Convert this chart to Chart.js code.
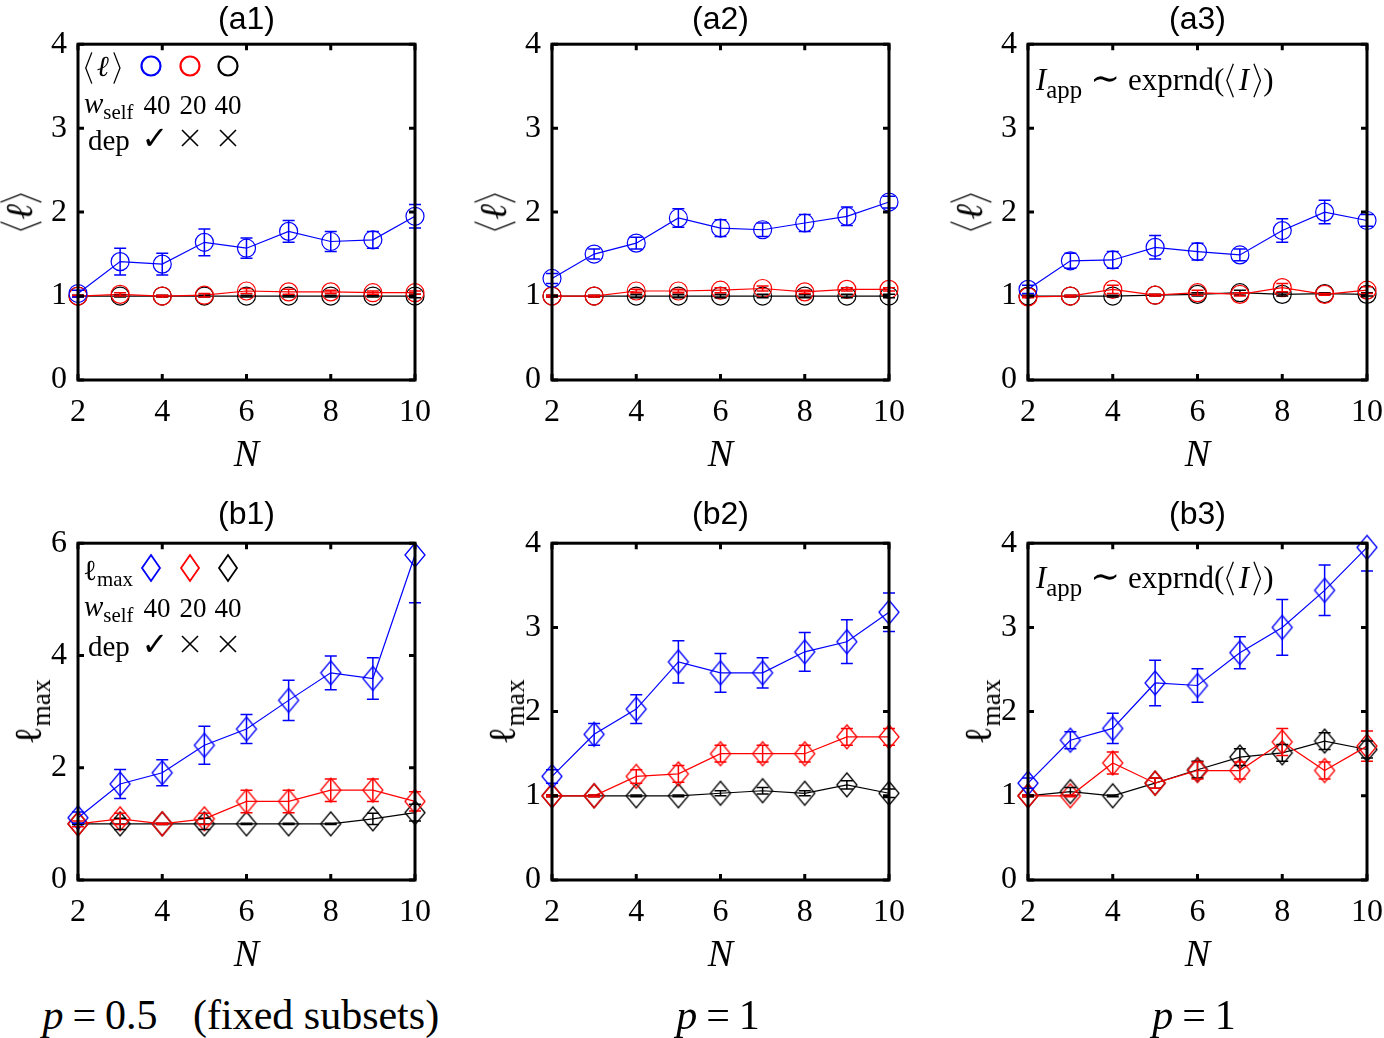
<!DOCTYPE html>
<html lang="en">
<head>
<meta charset="UTF-8">
<title>Cluster size vs N</title>
<script src="https://cdn.jsdelivr.net/npm/chart.js"></script>
<style>
  body { margin: 0; width: 1384px; height: 1038px; background: #fff; position: relative; overflow: hidden;
         font-family: 'Liberation Serif', 'DejaVu Serif', serif; color: #000; }
  canvas { position: absolute; }
  .t { position: absolute; white-space: nowrap; line-height: 1; transform: translate(-50%, -50%); }
  .ttl { font-family: 'Liberation Sans', Arial, sans-serif; font-size: 32px; }
  .nlab { font-style: italic; font-size: 38px; }
  .ylab { font-size: 38px; transform: translate(-50%, -50%) rotate(-90deg); }
  .leg { font-size: 29px; transform: translate(0, -50%); }
  .num { font-size: 27px; }
  .note { font-size: 31px; transform: translate(0, -50%); }
  .note sub { font-size: 0.8em; }
  .bot { font-size: 42px; }
  .left { transform: translate(0, -50%); }
  .eq { margin: 0 9px; }
  .tl { margin: 0 8px; font-family: 'DejaVu Serif', serif; font-size: 1.15em; }
  .gap { margin: 0 3px; }
  .mk { position: absolute; transform: translate(-50%, -50%); }
  .br { height: 1.15em; width: 0.3em; vertical-align: -0.28em; margin: 0 1px; }
  sub { font-size: 0.72em; vertical-align: -0.32em; line-height: 0; }
</style>
</head>
<body>
<script>
// x values shared by every panel
const nValues = [2, 3, 4, 5, 6, 7, 8, 9, 10];

// (a1) <l>, p = 0.5 fixed subsets
const a1Blue     = [1.03, 1.41, 1.38, 1.64, 1.57, 1.77, 1.65, 1.67, 1.95];
const a1BlueErr  = [0.04, 0.16, 0.13, 0.16, 0.12, 0.13, 0.12, 0.10, 0.14];
const a1Red      = [1.00, 1.02, 1.00, 1.01, 1.06, 1.05, 1.05, 1.04, 1.04];
const a1RedErr   = [0.01, 0.02, 0.01, 0.02, 0.03, 0.03, 0.02, 0.02, 0.02];
const a1Black    = [1.00, 1.00, 1.00, 1.00, 1.00, 1.00, 1.00, 1.00, 1.00];
const a1BlackErr = [0.01, 0.01, 0.01, 0.01, 0.01, 0.01, 0.01, 0.01, 0.02];

// (a2) <l>, p = 1
const a2Blue     = [1.21, 1.50, 1.63, 1.93, 1.81, 1.79, 1.87, 1.95, 2.12];
const a2BlueErr  = [0.06, 0.06, 0.07, 0.11, 0.10, 0.08, 0.10, 0.11, 0.07];
const a2Red      = [1.00, 1.00, 1.06, 1.06, 1.07, 1.09, 1.05, 1.08, 1.08];
const a2RedErr   = [0.01, 0.01, 0.02, 0.02, 0.03, 0.03, 0.02, 0.02, 0.02];
const a2Black    = [1.00, 1.00, 1.00, 1.00, 1.00, 1.00, 1.00, 1.00, 1.00];
const a2BlackErr = [0.01, 0.01, 0.02, 0.02, 0.02, 0.02, 0.02, 0.02, 0.02];

// (a3) <l>, p = 1, I_app ~ exprnd(<I>)
const a3Blue     = [1.08, 1.42, 1.43, 1.58, 1.53, 1.49, 1.78, 2.00, 1.90];
const a3BlueErr  = [0.05, 0.09, 0.10, 0.14, 0.10, 0.07, 0.14, 0.14, 0.07];
const a3Red      = [0.99, 1.00, 1.08, 1.01, 1.04, 1.02, 1.10, 1.02, 1.07];
const a3RedErr   = [0.01, 0.01, 0.05, 0.01, 0.03, 0.02, 0.05, 0.01, 0.04];
const a3Black    = [1.00, 1.00, 1.00, 1.01, 1.02, 1.04, 1.02, 1.03, 1.02];
const a3BlackErr = [0.01, 0.01, 0.01, 0.01, 0.02, 0.03, 0.02, 0.01, 0.02];

// (b1) l_max, p = 0.5 fixed subsets
const b1Blue     = [1.11, 1.71, 1.91, 2.40, 2.69, 3.20, 3.69, 3.59, 5.79];
const b1BlueErr  = [0.10, 0.26, 0.23, 0.34, 0.26, 0.36, 0.30, 0.37, 0.85];
const b1Red      = [1.00, 1.09, 1.00, 1.09, 1.40, 1.40, 1.60, 1.60, 1.40];
const b1RedErr   = [0.05, 0.10, 0.01, 0.10, 0.20, 0.20, 0.20, 0.20, 0.17];
const b1Black    = [1.00, 1.00, 1.00, 1.00, 1.00, 1.00, 1.00, 1.09, 1.20];
const b1BlackErr = [0.01, 0.10, 0.01, 0.10, 0.01, 0.01, 0.01, 0.10, 0.15];

// (b2) l_max, p = 1
const b2Blue     = [1.23, 1.73, 2.03, 2.59, 2.46, 2.46, 2.71, 2.83, 3.18];
const b2BlueErr  = [0.08, 0.13, 0.17, 0.25, 0.23, 0.18, 0.23, 0.26, 0.23];
const b2Red      = [1.00, 1.00, 1.23, 1.26, 1.50, 1.50, 1.50, 1.70, 1.70];
const b2RedErr   = [0.01, 0.01, 0.08, 0.10, 0.10, 0.10, 0.10, 0.10, 0.10];
const b2Black    = [1.00, 1.00, 1.00, 1.00, 1.03, 1.06, 1.03, 1.13, 1.03];
const b2BlackErr = [0.01, 0.01, 0.01, 0.01, 0.03, 0.04, 0.03, 0.05, 0.05];

// (b3) l_max, p = 1, I_app ~ exprnd(<I>)
const b3Blue     = [1.15, 1.66, 1.80, 2.34, 2.31, 2.70, 3.00, 3.44, 3.95];
const b3BlueErr  = [0.06, 0.10, 0.18, 0.27, 0.20, 0.19, 0.33, 0.30, 0.28];
const b3Red      = [1.00, 1.00, 1.39, 1.15, 1.30, 1.30, 1.64, 1.30, 1.59];
const b3RedErr   = [0.01, 0.01, 0.13, 0.06, 0.10, 0.10, 0.16, 0.10, 0.18];
const b3Black    = [1.00, 1.05, 1.00, 1.15, 1.31, 1.46, 1.51, 1.65, 1.55];
const b3BlackErr = [0.01, 0.05, 0.01, 0.06, 0.10, 0.10, 0.10, 0.10, 0.10];

const xTicks = [2, 4, 6, 8, 10];
const panelNames = ['(a1)', '(a2)', '(a3)', '(b1)', '(b2)', '(b3)'];
const legendW = ['40', '20', '40'];

// layout of the plot areas (pixels)
const colLeft = [78, 552, 1028], colRight = [415, 889, 1367];
const rowTop = [44, 543], rowBottom = [380, 880];
const Y_W = 50, X_H = 60, PAD = 25;

const BLUE = '#0000ff', RED = '#ff0000', BLACK = '#000000';
const SERIF = "'Liberation Serif', 'Times New Roman', serif";
Chart.defaults.font.family = SERIF;
const tickFont = { family: SERIF, size: 32 };
const charts = [];

// thin angle brackets as inline svg
function ang(open) {
  const pts = open ? '9,1 2,16 9,31' : '1,1 8,16 1,31';
  return `<svg class="br" viewBox="0 0 10 32" preserveAspectRatio="none"><polyline points="${pts}" fill="none" stroke="#000" stroke-width="1.3" vector-effect="non-scaling-stroke"/></svg>`;
}
const ell = `${ang(true)}<i>ℓ</i>${ang(false)}`;
const ellWide = `${ang(true)}<i class="gap">ℓ</i>${ang(false)}`;

function diamond(color) {
  const c = document.createElement('canvas');
  c.width = 24; c.height = 28;
  const g = c.getContext('2d');
  g.strokeStyle = color; g.lineWidth = 1.3;
  g.beginPath();
  g.moveTo(12, 2); g.lineTo(22, 14); g.lineTo(12, 26); g.lineTo(2, 14); g.closePath();
  g.stroke();
  return c;
}

const frame = {
  id: 'frame',
  afterDraw(chart) {
    const { ctx, chartArea: a, scales: { x, y } } = chart;
    ctx.save();
    ctx.strokeStyle = '#000';
    ctx.lineWidth = 3;
    ctx.strokeRect(a.left, a.top, a.width, a.height);
    ctx.beginPath();
    x.ticks.forEach(t => {
      const px = x.getPixelForValue(t.value);
      ctx.moveTo(px, a.bottom); ctx.lineTo(px, a.bottom - 6);
      ctx.moveTo(px, a.top); ctx.lineTo(px, a.top + 6);
    });
    y.ticks.forEach(t => {
      const py = y.getPixelForValue(t.value);
      ctx.moveTo(a.left, py); ctx.lineTo(a.left + 6, py);
      ctx.moveTo(a.right, py); ctx.lineTo(a.right - 6, py);
    });
    ctx.stroke();
    ctx.restore();
  }
};

const errorBars = {
  id: 'errorBars',
  afterDatasetsDraw(chart) {
    const { ctx, chartArea: a, scales: { x, y } } = chart;
    ctx.save();
    ctx.beginPath();
    ctx.rect(a.left - 30, a.top, a.width + 60, a.height);
    ctx.clip();
    chart.data.datasets.slice().reverse().forEach(ds => {
      ctx.strokeStyle = ds.borderColor;
      ctx.lineWidth = 1.5;
      ctx.beginPath();
      ds.data.forEach((p, i) => {
        const e = ds.errors[i];
        const px = x.getPixelForValue(p.x);
        const t = y.getPixelForValue(p.y + e), b = y.getPixelForValue(p.y - e);
        ctx.moveTo(px, t); ctx.lineTo(px, b);
        ctx.moveTo(px - 6, t); ctx.lineTo(px + 6, t);
        ctx.moveTo(px - 6, b); ctx.lineTo(px + 6, b);
      });
      ctx.stroke();
    });
    ctx.restore();
  }
};

function series(vals, errs, color, marker) {
  return {
    data: nValues.map((n, i) => ({ x: n, y: vals[i] })),
    errors: errs,
    borderColor: color,
    borderWidth: 1.2,
    pointStyle: marker === 'circle' ? 'circle' : diamond(color),
    pointRadius: 9,
    pointBorderWidth: 1.2,
    pointBorderColor: color,
    pointBackgroundColor: 'rgba(0,0,0,0)',
    tension: 0,
    clip: false
  };
}

function addText(html, x, y, cls) {
  const d = document.createElement('div');
  d.className = 't ' + cls;
  d.innerHTML = html;
  d.style.left = x + 'px';
  d.style.top = y + 'px';
  document.body.appendChild(d);
  return d;
}

function panel(idx, yMax, yStep, marker, blue, blueErr, red, redErr, black, blackErr) {
  const col = idx % 3, row = Math.floor(idx / 3);
  const L = colLeft[col], R = colRight[col], T = rowTop[row], B = rowBottom[row];
  const cv = document.createElement('canvas');
  document.body.appendChild(cv);
  const W0 = Y_W + (R - L) + PAD, H0 = PAD + (B - T) + X_H;
  cv.width = W0; cv.height = H0;
  cv.style.width = W0 + 'px'; cv.style.height = H0 + 'px';

  const chart = new Chart(cv, {
    type: 'line',
    data: {
      datasets: [
        series(blue, blueErr, BLUE, marker),
        series(red, redErr, RED, marker),
        series(black, blackErr, BLACK, marker)
      ]
    },
    options: {
      responsive: false,
      maintainAspectRatio: false,
      animation: false,
      layout: { padding: { top: PAD, right: PAD, left: 0, bottom: 0 } },
      plugins: { legend: { display: false }, tooltip: { enabled: false } },
      scales: {
        x: {
          type: 'linear', min: 2, max: 10,
          afterBuildTicks: s => { s.ticks = xTicks.map(v => ({ value: v })); },
          ticks: { font: tickFont, color: '#000', padding: 13, maxRotation: 0, autoSkip: false },
          grid: { display: false, drawTicks: false },
          border: { display: false },
          afterFit: s => { s.height = X_H; }
        },
        y: {
          min: 0, max: yMax,
          ticks: { stepSize: yStep, font: tickFont, color: '#000', padding: 11 },
          grid: { display: false, drawTicks: false },
          border: { display: false },
          afterFit: s => { s.width = Y_W; }
        }
      }
    },
    plugins: [errorBars, frame]
  });
  charts.push(chart);

  // grow the canvas until the plot area has the wanted size, then place it
  for (let k = 0; k < 4; k++) {
    const a = chart.chartArea;
    const dw = Math.round((R - L) - (a.right - a.left));
    const dh = Math.round((B - T) - (a.bottom - a.top));
    if (!dw && !dh) break;
    chart.resize(chart.width + dw, chart.height + dh);
  }
  cv.style.left = Math.round(L - chart.chartArea.left) + 'px';
  cv.style.top = Math.round(T - chart.chartArea.top) + 'px';

  const cx = (L + R) / 2, cy = (T + B) / 2;
  addText(panelNames[idx], cx, T - 26 - row * 4, 'ttl');
  addText('N', cx, B + 73, 'nlab');
  if (row === 0) addText(ell, L - 57, cy, 'ylab');
  else addText('ℓ<sub>max</sub>', L - 50, cy, 'ylab');
}

// make sure the serif face is ready before the canvases paint their ticks
const probe = addText('0123456789', -500, -500, '');
probe.style.fontFamily = SERIF; probe.style.fontSize = '32px';
void probe.offsetWidth;

panel(0, 4, 1, 'circle', a1Blue, a1BlueErr, a1Red, a1RedErr, a1Black, a1BlackErr);
panel(1, 4, 1, 'circle', a2Blue, a2BlueErr, a2Red, a2RedErr, a2Black, a2BlackErr);
panel(2, 4, 1, 'circle', a3Blue, a3BlueErr, a3Red, a3RedErr, a3Black, a3BlackErr);
panel(3, 6, 2, 'diamond', b1Blue, b1BlueErr, b1Red, b1RedErr, b1Black, b1BlackErr);
panel(4, 4, 1, 'diamond', b2Blue, b2BlueErr, b2Red, b2RedErr, b2Black, b2BlackErr);
panel(5, 4, 1, 'diamond', b3Blue, b3BlueErr, b3Red, b3RedErr, b3Black, b3BlackErr);
document.fonts.ready.then(() => charts.forEach(c => c.update()));

// bottom captions
addText('<i>p</i><span class="eq">=</span>0.5', 100, 1015, 'bot');
addText('(fixed subsets)', 193, 1015, 'bot left');
addText('<i>p</i><span class="eq">=</span>1', 718, 1015, 'bot');
addText('<i>p</i><span class="eq">=</span>1', 1194, 1015, 'bot');

// legends inside (a1) and (b1)
const markerX = [151, 190, 228];
function marker(shape, color, x, y) {
  const s = document.createElement('div');
  s.className = 'mk';
  s.style.left = x + 'px'; s.style.top = y + 'px';
  s.innerHTML = shape === 'circle'
    ? `<svg width="24" height="24"><circle cx="12" cy="12" r="9.5" fill="none" stroke="${color}" stroke-width="2.2"/></svg>`
    : `<svg width="24" height="30"><polygon points="12,2 21,15 12,28 3,15" fill="none" stroke="${color}" stroke-width="1.8"/></svg>`;
  document.body.appendChild(s);
}
function cross(x, y) {
  const s = document.createElement('div');
  s.className = 'mk';
  s.style.left = x + 'px'; s.style.top = y + 'px';
  s.innerHTML = '<svg width="20" height="20"><path d="M2,2 L18,18 M18,2 L2,18" stroke="#000" stroke-width="1.6" fill="none"/></svg>';
  document.body.appendChild(s);
}
function legend(rows, shape, head) {
  addText(head, 83, rows[0], 'leg');
  marker(shape, BLUE, markerX[0], rows[0]);
  marker(shape, RED, markerX[1], rows[0]);
  marker(shape, BLACK, markerX[2], rows[0]);
  addText('<i>w</i><sub>self</sub>', 84, rows[1] - 2, 'leg');
  legendW.forEach((w, i) => addText(w, [157, 193, 228][i], rows[1], 'num'));
  addText('dep', 88, rows[2], 'leg');
  addText('✓', 155, rows[2] - 2, 'chk');
  cross(190, rows[2]);
  cross(228, rows[2]);
}
legend([68, 105, 140], 'circle', ellWide);
legend([570, 608, 646], 'diamond', 'ℓ<sub>max</sub>');
document.querySelectorAll('.chk').forEach(e => { e.style.fontSize = '32px'; e.style.fontFamily = "'DejaVu Sans', sans-serif"; });

// annotation in (a3) and (b3)
const note = `<i>I</i><sub>app</sub><span class="tl">∼</span>exprnd(${ang(true)}<i class="gap">I</i>${ang(false)})`;
addText(note, 1036, 79, 'note');
addText(note, 1036, 577, 'note');
</script>
</body>
</html>
